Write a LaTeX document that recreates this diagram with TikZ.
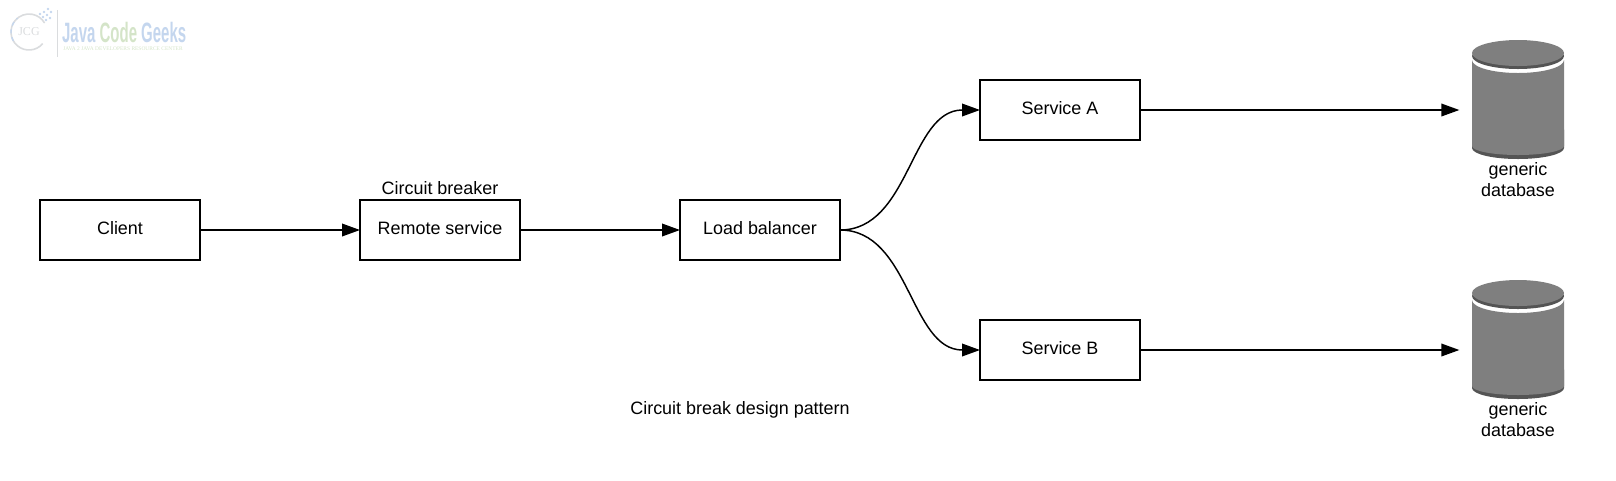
\documentclass[tikz,border=0pt]{standalone}
\usepackage{xcolor}
\usepackage{fontspec}
\setmainfont{Liberation Sans}
\newfontfamily\logofont{Liberation Serif}
\usetikzlibrary{arrows.meta, positioning}
\definecolor{dbbody}{RGB}{127,127,127}
\definecolor{dbrim}{RGB}{84,84,84}
\definecolor{logoblue}{RGB}{196,214,238}
\definecolor{logogreen}{RGB}{212,228,200}
\definecolor{logogray}{RGB}{218,220,222}
% cylinder drawn round the centre of a db node
\newcommand{\dbdraw}[1]{
  \begin{scope}[shift={(#1)}]
    \fill[dbrim] (-46,48.5) -- (-46,30) -- (46,30) -- (46,48.5) arc[start angle=0, end angle=180, x radius=46, y radius=11] -- cycle;
    \fill[dbbody] (-46,46.5) -- (-46,-39.5) arc[start angle=180, end angle=0, x radius=46, y radius=13] -- (46,46.5) arc[start angle=0, end angle=180, x radius=46, y radius=9] -- cycle;
    \fill[dbrim] (0,-43.5) ellipse[x radius=46, y radius=13];
    \fill[dbbody] (0,-46.5) ellipse[x radius=46, y radius=13];
  \end{scope}
}
\begin{document}
\begin{tikzpicture}[
  x=0.75pt, y=-0.75pt,
  node distance=120pt,
  box/.style={rectangle, draw=black, line width=1.1pt, minimum width=120pt, minimum height=45pt, align=center, text height=9.6pt, text depth=2.8pt, font=\fontsize{13.45}{13.45}\selectfont, outer sep=0pt},
  db/.style={rectangle, minimum width=69pt, minimum height=89.25pt, outer xsep=9.5pt, outer ysep=0pt, inner sep=0pt},
  label/.style={align=center, inner sep=0pt, font=\fontsize{13.45}{16.2}\selectfont},
  arrow/.style={-{Triangle[length=13.5pt,width=9.5pt]}, line width=1.1pt}
]
  \useasboundingbox (0,0) rectangle (1616,480);
  % logo
  \node[inner sep=0pt, text=logogray, font=\logofont\fontsize{9}{9}\selectfont] (logojcg) at (29,32) {JCG};
  \draw[logogray, line width=1.2pt] (logojcg) ++(40:18) arc[start angle=40, end angle=330, radius=18];
  \draw[logoblue, line width=1pt, dashed] (logojcg) ++(150:18) arc[start angle=150, end angle=230, radius=18];
  \foreach \dotx/\doty in {40/14, 44/12, 48/9, 43/17, 47/15, 51/12, 46/20, 50/18}
    \fill[logoblue] (\dotx,\doty) circle[radius=1.3];
  \draw[logogray, line width=0.5pt] (57,10) -- (57,57);
  \node[inner sep=0pt, anchor=west, xscale=.535, transform shape, font=\bfseries\fontsize{21}{21}\selectfont] (logotxt) at (62,32) {\textcolor{logoblue}{Java} \textcolor{logogreen}{Code} \textcolor{logoblue}{Geeks}};
  \node[inner sep=0pt, anchor=west, text=logogreen, font=\logofont\fontsize{4.1}{4.1}\selectfont] (logotag) at (63,49) {JAVA 2 JAVA DEVELOPERS RESOURCE CENTER};
  % boxes
  \node[box] (client) at (120,230) {Client};
  \node[box, right=of client] (remote) {Remote service};
  \node[box, right=of remote] (lb) {Load balancer};
  \node[box, above right=45pt and 105pt of lb] (svca) {Service A};
  \node[box, below right=45pt and 105pt of lb] (svcb) {Service B};
  \node[db] (dba) at (1518,99.5) {};
  \node[db] (dbb) at (1518,339.5) {};
  \dbdraw{dba}
  \dbdraw{dbb}
  % labels
  \node[label, above=4pt of remote] (breaker) {Circuit breaker};
  \node[label, below=2.3pt of dba] (dbalabel) {generic\\database};
  \node[label, below=2.3pt of dbb] (dbblabel) {generic\\database};
  \node[label] (caption) at (740,409.5) {Circuit break design pattern};
  % connectors
  \draw[arrow] (client)--(remote);
  \draw[arrow] (remote)--(lb);
  \draw[arrow] (lb.east)..controls +(70,0) and +(-70,0)..(svca.west);
  \draw[arrow] (lb.east)..controls +(70,0) and +(-70,0)..(svcb.west);
  \draw[arrow] (svca)--(svca -| dba.west);
  \draw[arrow] (svcb)--(svcb -| dbb.west);
\end{tikzpicture}
\end{document}
